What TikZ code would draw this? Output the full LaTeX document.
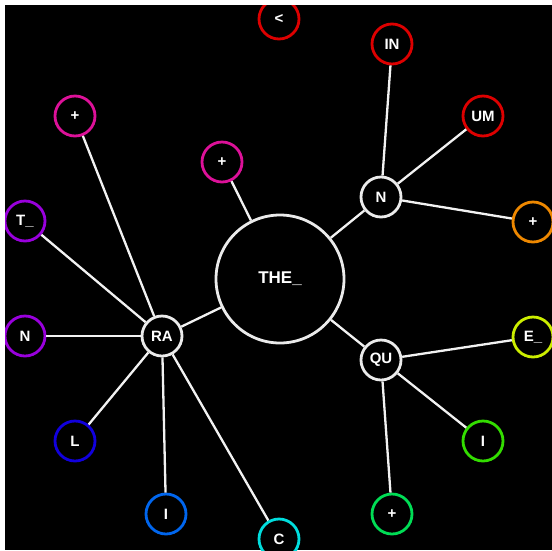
\documentclass[tikz,border=0pt]{standalone}
\usepackage{fontspec}
\setmainfont{Liberation Sans}
\begin{document}
\begin{tikzpicture}[x=1pt,y=-1pt,
  leaf/.style={circle,draw=#1,line width=2.8pt,fill=black,minimum size=40pt,inner sep=0pt,text=white,font=\fontsize{15}{15}\selectfont\bfseries},
  hub/.style={circle,draw=white!92!black,line width=2.8pt,fill=black,minimum size=40pt,inner sep=0pt,text=white,font=\fontsize{15}{15}\selectfont\bfseries},
  edge/.style={draw=white!95!black,line width=2.3pt}]
\fill[white] (0,0) rectangle (552,550);
\fill[black] (5,5) rectangle (552,550);
\useasboundingbox (0,0) rectangle (552,550);
\definecolor{cred}{HTML}{DD0000}
\definecolor{corange}{HTML}{EE8800}
\definecolor{cyg}{HTML}{CCEE00}
\definecolor{cgreen}{HTML}{33DD00}
\definecolor{cgreen2}{HTML}{00DD55}
\definecolor{ccyan}{HTML}{00DDDD}
\definecolor{cblue}{HTML}{0066EE}
\definecolor{cdblue}{HTML}{1100DD}
\definecolor{cpurple}{HTML}{9900DD}
\definecolor{cmag}{HTML}{DD1199}
\begin{scope}
\clip (5,5) rectangle (552,550);
\node[circle,draw=white!92!black,line width=2.8pt,fill=black,minimum size=128pt,inner sep=0pt,text=white,font=\fontsize{17}{17}\selectfont\bfseries] (the) at (280,279) {THE\_};
\node[hub] (n) at (381,197) {N};
\node[hub] (qu) at (381,360) {QU};
\node[hub] (ra) at (162,336) {RA};
\node[leaf=cred] (lt) at (279,19) {<};
\node[leaf=cred] (in) at (392,44) {IN};
\node[leaf=cred] (um) at (483,116) {UM};
\node[leaf=corange] (p1) at (533,222) {+};
\node[leaf=cyg] (e) at (533,337) {E\_};
\node[leaf=cgreen] (i1) at (483,441) {I};
\node[leaf=cgreen2] (p2) at (392,514) {+};
\node[leaf=ccyan] (c) at (279,539) {C};
\node[leaf=cblue] (i2) at (166,514) {I};
\node[leaf=cdblue] (l) at (75,441) {L};
\node[leaf=cpurple] (n2) at (25,336) {N};
\node[leaf=cpurple] (t) at (25,221) {T\_};
\node[leaf=cmag] (p3) at (75,116) {+};
\node[leaf=cmag] (p4) at (222,162) {+};
\draw[edge] (the) -- (n);
\draw[edge] (the) -- (qu);
\draw[edge] (the) -- (ra);
\draw[edge] (the) -- (p4);
\draw[edge] (n) -- (in);
\draw[edge] (n) -- (um);
\draw[edge] (n) -- (p1);
\draw[edge] (qu) -- (e);
\draw[edge] (qu) -- (i1);
\draw[edge] (qu) -- (p2);
\draw[edge] (ra) -- (p3);
\draw[edge] (ra) -- (t);
\draw[edge] (ra) -- (n2);
\draw[edge] (ra) -- (l);
\draw[edge] (ra) -- (i2);
\draw[edge] (ra) -- (c);
\end{scope}
\end{tikzpicture}
\end{document}
